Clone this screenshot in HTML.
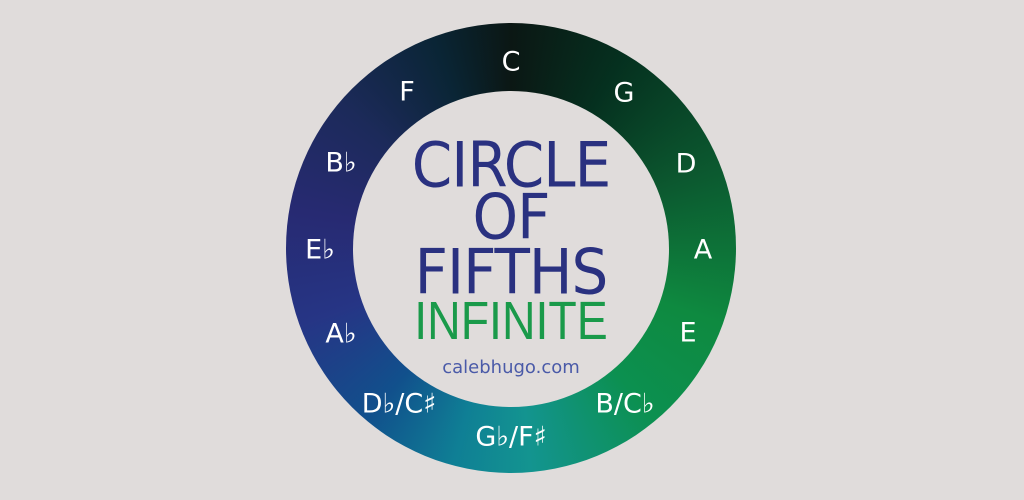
<!DOCTYPE html>
<html><head><style>
html,body{margin:0;padding:0}
body{width:1024px;height:500px;background:#e0dcdb;position:relative;overflow:hidden;font-family:"DejaVu Sans","Liberation Sans",sans-serif}
.ring{position:absolute;left:286px;top:23px;width:450px;height:450px;border-radius:50%;
background:conic-gradient(from 0deg,#0b1714 0deg,#05301f 30deg,#0c5a30 70deg,#0e8a40 110deg,#0c9050 140deg,#139490 175deg,#0f7f95 195deg,#11508c 220deg,#263585 250deg,#272a72 280deg,#1c2a5a 310deg,#0a2535 340deg,#0b1714 360deg)}
.inner{position:absolute;left:353px;top:91px;width:316px;height:316px;border-radius:50%;background:#e0dcdb}
.n{position:absolute;color:#fff;font-size:27px;transform:translate(-50%,-50%);white-space:nowrap}
.t{position:absolute;left:511px;transform:translateX(-50%) scaleY(1.08);color:#2a3180;font-size:58px;line-height:1;white-space:nowrap;letter-spacing:-1px}
</style></head><body>
<div class="ring"></div><div class="inner"></div>
<div class="n" style="left:511px;top:62px">C</div>
<div class="n" style="left:624px;top:93px">G</div>
<div class="n" style="left:686px;top:164px">D</div>
<div class="n" style="left:703px;top:250px">A</div>
<div class="n" style="left:688px;top:333px">E</div>
<div class="n" style="left:625px;top:404px">B/C♭</div>
<div class="n" style="left:511px;top:437px">G♭/F♯</div>
<div class="n" style="left:399px;top:404px">D♭/C♯</div>
<div class="n" style="left:341px;top:334px">A♭</div>
<div class="n" style="left:320px;top:250px">E♭</div>
<div class="n" style="left:341px;top:163px">B♭</div>
<div class="n" style="left:407px;top:92px">F</div>
<div class="t" style="top:136px">CIRCLE</div>
<div class="t" style="top:188px">OF</div>
<div class="t" style="top:243px">FIFTHS</div>
<div class="t" style="top:294px;color:#1a9a4a;font-family:'Liberation Sans',sans-serif;font-size:54px;letter-spacing:0;transform:translateX(-50%) scaleX(0.86)">INFINITE</div>
<div class="t" style="top:359px;color:#4a5aa8;font-size:18px;letter-spacing:0;transform:translateX(-50%)">calebhugo.com</div>
</body></html>
